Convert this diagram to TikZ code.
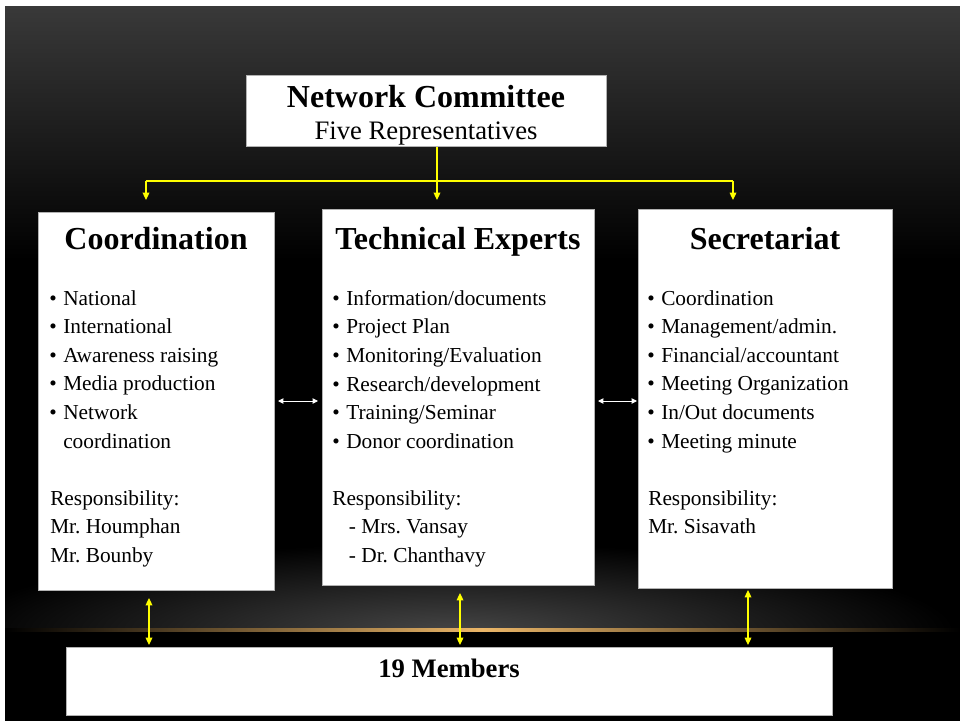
\documentclass[tikz,border=0pt]{standalone}
\usepackage{fontspec}
\setmainfont{Liberation Serif}
\usetikzlibrary{arrows.meta}
\frenchspacing

\definecolor{slidetop}{RGB}{57,57,57}
\definecolor{glowgray}{RGB}{70,70,70}
\definecolor{glowgold}{RGB}{235,182,104}
\definecolor{linkyellow}{RGB}{255,255,0}

\newcommand{\bul}{\makebox[10.5pt][l]{•}}

\begin{document}
\begin{tikzpicture}[x=0.75pt,y=-0.75pt,
  box/.style={draw=gray!60,line width=0.75pt,fill=white,anchor=north west,inner sep=0pt},
  boxhead/.style={font=\fontsize{24}{28}\selectfont\bfseries,anchor=base,inner sep=0pt},
  boxtext/.style={font=\fontsize{16}{21.45}\selectfont,align=left,anchor=north west,inner sep=0pt},
  yline/.style={draw=linkyellow,line width=0.9pt},
  yarrow/.style={yline,-{Triangle[length=5.5pt,width=5pt]}},
  ybiarrow/.style={yline,{Triangle[length=5.5pt,width=5pt]}-{Triangle[length=5.5pt,width=5pt]}},
  warrow/.style={draw=white,line width=0.75pt,{Triangle[length=4pt,width=4pt]}-{Triangle[length=4pt,width=4pt]}}]

% slide background
\useasboundingbox (0,0) rectangle (960,721);
\fill[white] (0,0) rectangle (960,721);
\fill[black] (5,6) rectangle (960,721);
\shade[top color=slidetop,bottom color=black] (5,6) rectangle (960,260);
\begin{scope}
\clip (5,540) rectangle (960,629);
\shade[inner color=glowgray,outer color=black] (455,632) ellipse [x radius=375pt,y radius=67pt];
\end{scope}
\shade[left color=black,right color=black,middle color=glowgold] (5,628) rectangle (960,631);

% boxes
\node[box,minimum width=270pt,minimum height=53.25pt] (nc) at (246,75) {};
\node[boxhead] (nchead) at (426,107) {Network Committee};
\node[font=\fontsize{20}{24}\selectfont,anchor=base,inner sep=0pt] (ncsub) at (426,139) {Five Representatives};

\node[box,minimum width=177pt,minimum height=283.5pt] (coord) at (38,212) {};
\node[box,minimum width=204pt,minimum height=282pt] (tech) at (322,209) {};
\node[box,minimum width=190.5pt,minimum height=284.25pt] (secr) at (638,209) {};
\node[box,minimum width=574.5pt,minimum height=51pt] (members) at (66,647) {};

\node[boxhead] (coordhead) at (156,249) {Coordination};
\node[boxhead] (techhead) at (458,249) {Technical Experts};
\node[boxhead] (secrhead) at (765,249) {Secretariat};

\node[boxtext] (coordlist) at (49,290) {\bul National\\ \bul International\\ \bul Awareness raising\\
  \bul Media production\\ \bul Network\\ \hspace*{10.5pt}coordination};
\node[boxtext] (coordresp) at (50,490) {Responsibility:\\ Mr. Houmphan\\ Mr. Bounby};

\node[boxtext] (techlist) at (332,290) {\bul Information/documents\\ \bul Project Plan\\ \bul Monitoring/Evaluation\\
  \bul Research/development\\ \bul Training/Seminar\\ \bul Donor coordination};
\node[boxtext] (techresp) at (332,490) {Responsibility:\\ \hspace*{12.5pt}- Mrs. Vansay\\ \hspace*{12.5pt}- Dr. Chanthavy};

\node[boxtext] (secrlist) at (647,290) {\bul Coordination\\ \bul Management/admin.\\ \bul Financial/accountant\\
  \bul Meeting Organization\\ \bul In/Out documents\\ \bul Meeting minute};
\node[boxtext] (secrresp) at (648,490) {Responsibility:\\ Mr. Sisavath};

\node[font=\fontsize{20}{24}\selectfont\bfseries,anchor=base,inner sep=0pt] (memtext) at (449,677) {19 Members};

% links from the committee
\coordinate (busl) at (146,181);
\coordinate (busc) at (437,181);
\coordinate (busr) at (733,181);
\draw[yline] (busl) -- (busr);
\draw[yarrow,shorten >=6.75pt] (nc.south -| busc) -- (tech.north -| busc);
\draw[yarrow,shorten >=9pt] (busl) -- (coord.north -| busl);
\draw[yarrow,shorten >=6.75pt] (busr) -- (secr.north -| busr);

% links between the groups
\coordinate (mid) at (0,401);
\draw[warrow,shorten <=2.25pt,shorten >=3pt] (coord.east |- mid) -- (tech.west |- mid);
\draw[warrow,shorten <=2.25pt,shorten >=0.75pt] (tech.east |- mid) -- (secr.west |- mid);

% links to the members
\coordinate (m1) at (149,0);
\coordinate (m2) at (460,0);
\coordinate (m3) at (748,0);
\draw[ybiarrow,shorten <=5.25pt,shorten >=1.5pt] (coord.south -| m1) -- (members.north -| m1);
\draw[ybiarrow,shorten <=5.25pt,shorten >=1.5pt] (tech.south -| m2) -- (members.north -| m2);
\draw[ybiarrow,shorten <=0.75pt,shorten >=1.5pt] (secr.south -| m3) -- (members.north -| m3);
\end{tikzpicture}
\end{document}
